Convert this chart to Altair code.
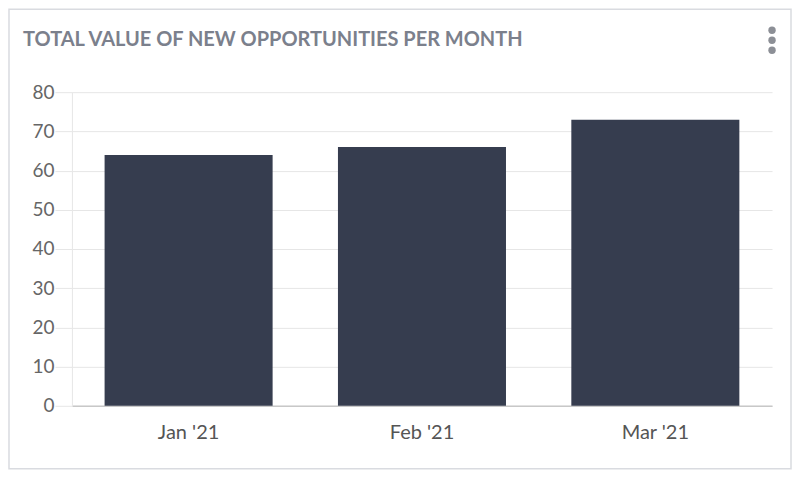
import altair as alt
import pandas as pd

months = ["Jan '21", "Feb '21", "Mar '21"]
values = [64, 66, 73]
y_ticks = [0, 10, 20, 30, 40, 50, 60, 70, 80]
title_text = "TOTAL VALUE OF NEW OPPORTUNITIES PER MONTH"

df = pd.DataFrame({"month": months, "value": values})
one = pd.DataFrame({"k": [0]})

bars = alt.Chart(df).mark_bar(color="#363d4f").encode(
    x=alt.X(
        "month:N",
        sort=months,
        scale=alt.Scale(paddingInner=0.28, paddingOuter=0.14),
        axis=alt.Axis(
            title=None, labelAngle=0, ticks=False, grid=False,
            domainColor="#c8c8c8", domainWidth=1.5,
            labelFontSize=20, labelColor="#555555", labelPadding=17,
        ),
    ),
    y=alt.Y(
        "value:Q",
        scale=alt.Scale(domain=[0, 80]),
        axis=alt.Axis(
            title=None, values=y_ticks, tickSize=17, tickColor="#e6e6e6",
            domainColor="#e6e6e6", gridColor="#e6e6e6",
            labelFontSize=19, labelColor="#666666", labelPadding=1,
        ),
    ),
)

card = alt.Chart(one).mark_rect(
    fillOpacity=0, stroke="#d9dbe0", strokeWidth=1.5
).encode(
    x=alt.value(-63), x2=alt.value(720), y=alt.value(-83), y2=alt.value(377)
)

title = alt.Chart(one).mark_text(
    text=title_text, align="left", baseline="alphabetic",
    font="Lato", fontSize=20, fontWeight="bold", color="#7b808c",
).encode(x=alt.value(-49), y=alt.value(-46))

dots = [
    alt.Chart(one).mark_circle(size=55, color="#8c8f96", opacity=1).encode(
        x=alt.value(701), y=alt.value(yy)
    )
    for yy in (-62, -52, -42)
]

chart = alt.layer(card, bars, title, *dots).properties(
    width=701, height=314,
    padding={"left": 64, "top": 84, "right": 20, "bottom": 64},
    autosize="none",
    background="white",
).configure(font="Lato").configure_view(strokeWidth=0)

chart.save("out.html", embed_options={"renderer": "svg", "actions": False})
